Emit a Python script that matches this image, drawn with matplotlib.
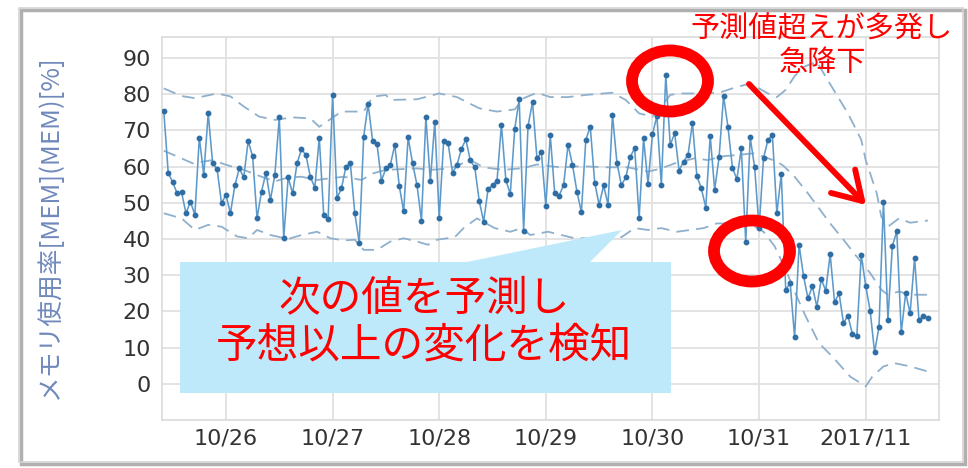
import matplotlib
matplotlib.use('Agg')
import matplotlib.pyplot as plt
import numpy as np
import pandas as pd
from matplotlib.patches import Ellipse, Rectangle, Polygon, FancyArrowPatch

plt.rcParams['font.family'] = ['Noto Sans CJK JP', 'DejaVu Sans']

# ---------------- data ----------------
start_time = '2017-10-25 10:00'
mem_usage = [
    75.4, 58.3, 55.7, 52.6, 52.9, 47.1, 50.3, 46.7, 68.0, 57.7, 74.7, 60.9, 59.3, 49.9, 52.2,
    47.1, 54.8, 59.5, 57.0, 67.1, 62.8, 45.7, 53.1, 58.3, 50.8, 57.7, 73.6, 40.2, 57.0,
    52.6, 60.9, 64.8, 63.2, 57.1, 54.2, 68.0, 46.7, 45.6, 79.8, 51.3, 54.0, 60.0, 60.9, 47.1,
    39.0, 68.3, 77.3, 67.2, 66.2, 56.1, 59.5, 60.5, 66.0, 54.7, 47.6, 68.1, 60.9, 54.9,
    45.1, 73.6, 55.9, 72.4, 45.7, 67.1, 66.4, 58.3, 60.5, 64.9, 67.5, 61.7, 59.8, 50.6, 44.8,
    53.8, 54.9, 56.0, 71.5, 56.3, 52.4, 70.4, 78.6, 42.2, 71.3, 77.8, 62.3, 63.9, 49.1, 68.7,
    52.6, 52.0, 54.9, 66.0, 60.5, 53.1, 47.4, 67.4, 71.0, 55.6, 49.4, 54.8, 49.5, 74.3, 61.1,
    54.9, 57.0, 62.6, 65.2, 45.7, 67.8, 55.2, 68.9, 74.0, 54.9, 85.3, 66.0, 69.2, 58.9,
    61.4, 63.2, 72.0, 57.4, 54.0, 48.7, 68.5, 53.6, 62.6, 79.5, 70.9, 59.7, 56.5, 65.0, 39.1,
    68.1, 59.8, 43.0, 62.3, 67.4, 68.7, 47.1, 57.9, 26.0, 27.8,
    12.9, 38.4, 29.8, 23.6, 26.9, 21.3, 28.9, 25.7, 35.8, 22.5, 25.0, 16.8, 18.8, 13.8, 13.1,
    35.6, 27.1, 20.2, 8.7, 15.8, 50.3, 17.7, 38.1, 42.1, 14.2, 25.0, 19.5, 34.7, 17.5, 18.8, 18.1,
]

# prediction band (hours after 2017-10-26 00:00, value)
band_origin = '2017-10-26 00:00'
upper_hours = [-14, -10, -7, -2, 1, 4, 7.5, 11, 15, 19, 21, 26, 31, 33, 36, 37, 43, 48, 52, 57,
               61, 65, 67, 70, 73, 77, 81, 87, 90, 93, 96, 98, 100, 102, 106, 111, 114, 118, 122,
               124, 126, 128, 130, 133, 135, 140, 143, 144, 146.5, 147.5, 149, 151.5, 154, 158]
upper_vals = [81.6, 79.5, 78.9, 80.2, 79.4, 76.6, 73.8, 72.9, 73.6, 73.3, 71.0, 75.2, 75.2, 79.3,
              79.8, 78.4, 78.6, 80.2, 79.2, 76.1, 75.2, 75.8, 78.9, 80.4, 79.2, 79.2, 79.8, 80.4,
              78.4, 74.7, 73.8, 76.5, 79.8, 80.2, 80.2, 80.4, 81.6, 83.0, 80.2, 79.2, 81.2, 85.0,
              87.5, 89.0, 84.8, 74.7, 67.4, 61.8, 52.6, 46.2, 43.4, 45.7, 44.5, 45.1]
mid_hours = [-14, -11, -7.5, -3, 0, 4, 8, 11, 14, 17, 20.5, 23.5, 26.5, 30.5, 33, 36, 43, 46, 50.5,
             55, 58, 62.5, 67, 70, 73, 75.5, 80, 86, 90.5, 95, 98, 101, 105.5, 108.5, 111.5, 115,
             119, 122, 124, 125.5, 128, 131, 136, 139, 142, 145, 147.5, 149, 151.5, 154, 158]
mid_vals = [64.4, 62.8, 60.9, 61.8, 60.5, 59.1, 57.2, 55.9, 57.0, 57.2, 56.3, 56.8, 57.2, 56.3,
            58.1, 59.1, 59.5, 59.1, 59.5, 61.8, 59.8, 59.1, 59.6, 60.6, 60.1, 59.8, 60.1, 59.8,
            59.8, 58.6, 59.5, 60.9, 62.3, 61.8, 62.8, 63.2, 63.7, 62.3, 61.4, 60.2, 57.2, 52.6,
            44.3, 39.8, 35.1, 30.6, 26.0, 24.6, 25.5, 24.6, 24.6]
lower_hours = [-14, -10, -7, -4, -1, 2.5, 5, 7, 10, 14, 17, 20.5, 23.5, 26.5, 29, 31, 34, 37, 40,
               43, 45.5, 47.5, 51.5, 53.5, 56.5, 60.5, 64, 66.5, 68.5, 72.5, 75.5, 78.5, 83.5, 89,
               92, 95, 98, 101.5, 104.5, 107.5, 110.5, 115, 119, 121, 123.5, 126, 128.5, 130.5,
               133.5, 136.5, 140.5, 144, 145.5, 148, 150.5, 154, 158]
lower_vals = [47.1, 45.7, 42.5, 43.9, 43.4, 40.7, 40.2, 42.5, 41.1, 40.0, 41.1, 42.0, 40.2, 39.6,
              39.8, 37.0, 37.0, 39.3, 40.2, 39.3, 38.4, 39.8, 40.5, 43.0, 45.7, 43.0, 42.0, 43.0,
              41.1, 42.0, 41.1, 40.2, 40.2, 40.5, 43.0, 42.5, 43.0, 42.0, 42.5, 43.0, 44.3, 44.3,
              43.5, 42.0, 38.0, 31.5, 24.1, 18.6, 11.2, 7.5, 2.0, -0.7, 2.0, 4.8, 5.7, 4.8, 3.4]

tick_dates = ['2017-10-26', '2017-10-27', '2017-10-28', '2017-10-29', '2017-10-30',
              '2017-10-31', '2017-11-01']
tick_labels = ['10/26', '10/27', '10/28', '10/29', '10/30', '10/31', '2017/11']
y_ticks = [0, 10, 20, 30, 40, 50, 60, 70, 80, 90]
y_label = 'メモリ使用率[MEM](MEM)[%]'
note_top = '予測値超えが多発し\n急降下'
note_box = '次の値を予測し\n予想以上の変化を検知'

# ---------------- figure ----------------
W, H = 968, 468
fig = plt.figure(figsize=(W / 100, H / 100), dpi=100)
fig.patch.set_facecolor('white')


def px(x, y):
    return (x / W, 1 - y / H)


# outer frame with soft shadow
fig.patches.append(Rectangle(px(21, 464), 944 / W, 454 / H, transform=fig.transFigure,
                             facecolor='none', edgecolor='#b0b0b0', lw=2.5, zorder=-2))
fig.patches.append(Rectangle(px(19, 462), 944 / W, 454 / H, transform=fig.transFigure,
                             facecolor='none', edgecolor='#d4d4d4', lw=1.2, zorder=-1))

ax = fig.add_axes([162 / W, 1 - 420 / H, (939 - 162) / W, (420 - 37) / H])
ax.set_facecolor('white')

times = pd.date_range(start_time, periods=len(mem_usage), freq='h')
t0 = pd.Timestamp(band_origin)
up_t = t0 + pd.to_timedelta(upper_hours, unit='h')
mid_t = t0 + pd.to_timedelta(mid_hours, unit='h')
lo_t = t0 + pd.to_timedelta(lower_hours, unit='h')

band_color = '#8fb0cc'
for bt, bv in ((up_t, upper_vals), (mid_t, mid_vals), (lo_t, lower_vals)):
    ax.plot(bt, bv, color=band_color, lw=1.3, dashes=(7, 4), zorder=2)

ax.plot(times, mem_usage, color='#5d9acb', lw=1.15, marker='o', markersize=3.2,
        markerfacecolor='#2f6ea5', markeredgecolor='#2f6ea5', zorder=3)

ax.set_ylim(-10, 95.8)
ax.set_xlim(t0 - pd.Timedelta(hours=14.4), t0 + pd.Timedelta(hours=160.5))
ax.set_yticks(y_ticks)
ax.set_xticks(pd.to_datetime(tick_dates))
ax.set_xticklabels(tick_labels)
ax.grid(True, color='#e3e3e3', lw=1.4, zorder=0)
ax.set_axisbelow(True)
for s in ax.spines.values():
    s.set_color('#dadada')
    s.set_linewidth(1.2)
ax.tick_params(length=0, labelsize=16, colors='#333333', pad=8)
ax.tick_params(axis='x', pad=6)
for lab in ax.get_xticklabels() + ax.get_yticklabels():
    lab.set_fontfamily('DejaVu Sans')

fig.text(50 / W, 1 - 228 / H, y_label, rotation=90, ha='center', va='center',
         fontsize=18.5, color='#7089bb')

# callout box with pointer
callout = [px(180, 262), px(467, 262), px(622, 230), px(590, 262), px(671, 262),
           px(671, 393), px(180, 393)]
fig.patches.append(Polygon(callout, closed=True, transform=fig.transFigure,
                           facecolor='#bde9fb', edgecolor='none', zorder=5))
fig.text(*px(424, 322), note_box, ha='center', va='center', fontsize=30,
         color='#ff0000', linespacing=1.2, zorder=6)

# red circles
for cx, cy in ((670, 81), (752, 251)):
    fig.patches.append(Ellipse(px(cx, cy), 76 / W, 61 / H, transform=fig.transFigure,
                               facecolor='none', edgecolor='#ff0000', lw=8.5, zorder=6))

# arrow
fig.patches.append(FancyArrowPatch(px(747, 82), px(868, 207), transform=fig.transFigure,
                                   arrowstyle='->,head_length=0.9,head_width=0.55',
                                   mutation_scale=22, color='#ff0000', lw=4.2, zorder=6))

fig.text(*px(822, 46), note_top, ha='center', va='center', fontsize=21,
         color='#ff0000', linespacing=1.15, zorder=6)

fig.savefig('out.png', dpi=100)
